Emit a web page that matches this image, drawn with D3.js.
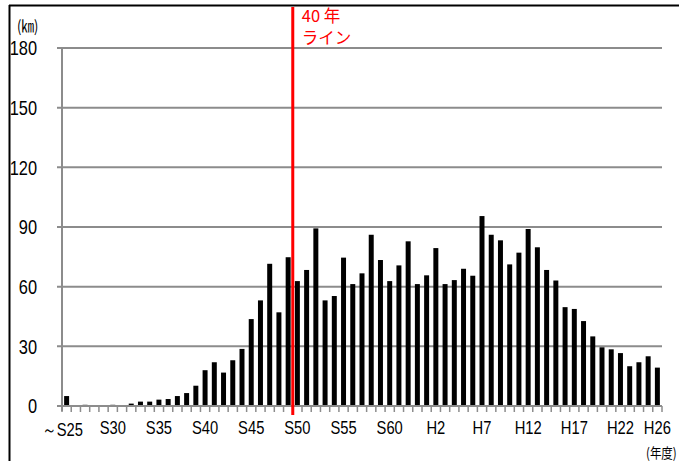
<!DOCTYPE html>
<html>
<head>
<meta charset="utf-8">
<script src="https://cdn.jsdelivr.net/npm/d3@7"></script>
<style>
  html, body { margin: 0; padding: 0; background: #fff; }
  svg { display: block; }
  .num { font-family: "Liberation Sans", Arial, sans-serif; }
</style>
</head>
<body>
<svg id="chart" width="679" height="461"></svg>
<script>
// Categories (fiscal years S25..S63, H1..H26)
const categories = [
  "S25","S26","S27","S28","S29","S30","S31","S32","S33","S34",
  "S35","S36","S37","S38","S39","S40","S41","S42","S43","S44",
  "S45","S46","S47","S48","S49","S50","S51","S52","S53","S54",
  "S55","S56","S57","S58","S59","S60","S61","S62","S63",
  "H1","H2","H3","H4","H5","H6","H7","H8","H9","H10",
  "H11","H12","H13","H14","H15","H16","H17","H18","H19","H20",
  "H21","H22","H23","H24","H25","H26"
];
// Length (km) per fiscal year
const values = [
  5, 0, 0.6, 0, 0, 0.6, 0, 1.2, 2.2, 2.2,
  3.2, 3.5, 5, 6.5, 10.2, 18, 22, 16.8, 23, 28.7,
  43.7, 53.1, 71.5, 47.1, 74.8, 62.8, 68.4, 89.3, 53.1, 55.3,
  74.6, 61.3, 66.7, 86.1, 73.4, 62.8, 70.7, 82.8, 61.3,
  65.7, 79.4, 61.3, 63.3, 69, 65.5, 95.5, 86.1, 83.3, 71.2,
  77.1, 89, 79.8, 68.4, 63.1, 49.7, 48.8, 42.7, 35, 29.5,
  28.5, 26.6, 20, 22, 25, 19.3
];
const xTickLabels = ["～S25","S30","S35","S40","S45","S50","S55","S60","H2","H7","H12","H17","H22","H26"];
const xTickCats   = ["S25","S30","S35","S40","S45","S50","S55","S60","H2","H7","H12","H17","H22","H26"];
const yTicks = [0, 30, 60, 90, 120, 150, 180];
const markerCategory = "S50";
const markerLabel = ["40 年", "ライン"];
const yUnit = "(㎞)";
const xUnit = "(年度)";

const svg = d3.select("#chart");
const W = 679, H = 461;
const m = { left: 62, right: 17, top: 48, bottom: 55 };
const NARROW = 0.82;

const x = d3.scaleBand().domain(categories).range([m.left, W - m.right]).paddingInner(0.46).paddingOuter(0.23);
const y = d3.scaleLinear().domain([0, 180]).range([H - m.bottom, m.top]);

// outer frame
svg.append("line").attr("x1", 9).attr("x2", 679).attr("y1", 5.5).attr("y2", 5.5).attr("stroke", "#000").attr("stroke-width", 2);
svg.append("line").attr("x1", 9.5).attr("x2", 9.5).attr("y1", 5).attr("y2", 461).attr("stroke", "#000").attr("stroke-width", 2);

// gridlines + y ticks
svg.append("g").selectAll("line").data(yTicks).join("line")
  .attr("x1", m.left - 5).attr("x2", W - m.right)
  .attr("y1", d => y(d)).attr("y2", d => y(d))
  .attr("stroke", "#8c8c8c").attr("stroke-width", 2);

// y labels (narrow)
svg.append("g").selectAll("text").data(yTicks).join("text")
  .attr("class", "num")
  .attr("transform", d => `translate(37,${y(d)}) scale(${NARROW},1)`)
  .attr("dy", "0.36em")
  .attr("text-anchor", "end").attr("font-size", 20).attr("fill", "#000")
  .text(d => d);

// y axis line
svg.append("line").attr("x1", m.left).attr("x2", m.left).attr("y1", y(180)).attr("y2", y(0) + 5)
  .attr("stroke", "#8c8c8c").attr("stroke-width", 2);

// bars
svg.append("g").selectAll("rect").data(categories).join("rect")
  .attr("x", d => x(d)).attr("width", x.bandwidth())
  .attr("y", (d, i) => y(values[i])).attr("height", (d, i) => y(0) - y(values[i]))
  .attr("fill", "#000");

// x ticks at category boundaries
const step = x.step();
const boundaries = d3.range(categories.length + 1).map(i => m.left + i * step);
svg.append("g").selectAll("line").data(boundaries).join("line")
  .attr("x1", d => d).attr("x2", d => d).attr("y1", y(0)).attr("y2", y(0) + 6)
  .attr("stroke", "#8c8c8c").attr("stroke-width", 1.5);

// x axis line
svg.append("line").attr("x1", m.left - 5).attr("x2", W - m.right).attr("y1", y(0)).attr("y2", y(0))
  .attr("stroke", "#8c8c8c").attr("stroke-width", 2);

// x labels (narrow)
svg.append("g").selectAll("text").data(xTickCats).join("text")
  .attr("class", "num")
  .attr("transform", (d, i) => `translate(${x(d) + x.bandwidth() / 2 - (i === 0 ? 4 : 0)},${i === 0 ? 436 : 434}) scale(${NARROW},1)`)
  .attr("text-anchor", "middle").attr("font-size", 18).attr("fill", "#000")
  .text((d, i) => xTickLabels[i]);

// red 40-year line
const mx = x(markerCategory) - (step - x.bandwidth()) / 2;
svg.append("line").attr("x1", mx).attr("x2", mx).attr("y1", 7).attr("y2", y(0) + 9)
  .attr("stroke", "#ff0000").attr("stroke-width", 3);
svg.append("g").selectAll("text").data(markerLabel).join("text")
  .attr("x", mx + 9).attr("y", (d, i) => 22 + i * 22)
  .attr("font-family", "'Noto Sans CJK JP', sans-serif").attr("font-size", 16.5).attr("fill", "#ff0000")
  .attr("xml:space", "preserve")
  .text(d => d);

// units
svg.append("text").attr("transform", `translate(17,32) scale(0.8,1)`)
  .attr("font-family", "'Noto Sans CJK JP', sans-serif").attr("font-size", 16).attr("fill", "#000").text(yUnit);
svg.append("text").attr("transform", `translate(646,458) scale(0.82,1)`)
  .attr("font-family", "'Noto Sans CJK JP', sans-serif").attr("font-size", 14).attr("fill", "#000").text(xUnit);
</script>
</body>
</html>
